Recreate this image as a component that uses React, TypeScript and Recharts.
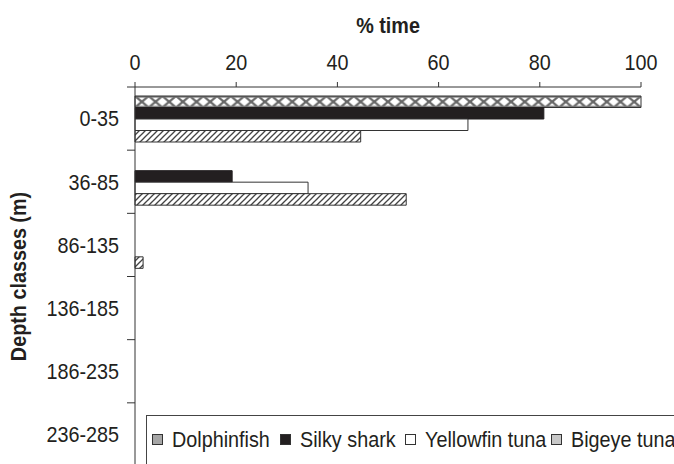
import { Bar, BarChart, Label, XAxis, YAxis } from "recharts";

const depthClasses = ["0-35", "36-85", "86-135", "136-185", "186-235", "236-285"];
const dolphinfish = [100, 0, 0, 0, 0, 0];
const silkyShark = [80.8, 19.2, 0, 0, 0, 0];
const yellowfinTuna = [65.8, 34.2, 0, 0, 0, 0];
const bigeyeTuna = [44.6, 53.6, 1.6, 0, 0, 0];
const timeTicks = [0, 20, 40, 60, 80, 100];

const data = depthClasses.map((depth, i) => ({
  depth,
  dolphinfish: dolphinfish[i],
  silkyShark: silkyShark[i],
  yellowfinTuna: yellowfinTuna[i],
  bigeyeTuna: bigeyeTuna[i],
}));

const W = 674;
const H = 466;
const TOP = 87;
const BAND = (H - TOP) / depthClasses.length;

const font = "'Liberation Sans', Arial, sans-serif";
const ink = "#231f20";
const FS = 22;
const SX = 0.9; // the original type is a bit condensed

const legendItems = [
  { name: "Dolphinfish", swatch: "#a6a6a6", at: 6 },
  { name: "Silky shark", swatch: "#231f20", at: 134 },
  { name: "Yellowfin tuna", swatch: "#ffffff", at: 259 },
  { name: "Bigeye tuna", swatch: "#c8c8c8", at: 405 },
];

function SText({ x, y, anchor = "start", bold = false, rotate = 0, baseline = "auto", children }: any) {
  return (
    <text
      transform={`translate(${x} ${y}) rotate(${rotate}) scale(${SX} 1)`}
      textAnchor={anchor}
      dominantBaseline={baseline}
      fontSize={FS}
      fontWeight={bold ? "bold" : "normal"}
      fill={ink}
      fontFamily={font}
    >
      {children}
    </text>
  );
}

function TimeTick(props: any) {
  const { x, y, payload } = props;
  return <SText x={x} y={y} anchor="middle">{payload.value}</SText>;
}

function DepthTick(props: any) {
  const { x, y, payload } = props;
  const axisX = x + 16;
  return (
    <g>
      <line x1={axisX - 8} x2={axisX} y1={y - BAND / 2} y2={y - BAND / 2} stroke="#333" strokeWidth={1} />
      <SText x={x} y={y} anchor="end" baseline="central">{payload.value}</SText>
    </g>
  );
}

function LegendBox() {
  return (
    <svg width={540} height={60} style={{ position: "absolute", left: 146, top: 415, display: "block" }}>
      <rect x={0.5} y={0.5} width={538} height={70} fill="#fff" stroke="#444" strokeWidth={1} />
      {legendItems.map((it) => (
        <g key={it.name}>
          <rect x={it.at + 0.5} y={19.5} width={10} height={10} fill={it.swatch} stroke="#333" strokeWidth={1} />
          <SText x={it.at + 20} y={24.5} baseline="central">{it.name}</SText>
        </g>
      ))}
    </svg>
  );
}

export default function App() {
  return (
    <div style={{ position: "fixed", left: 0, top: 0, width: W, height: 464, overflow: "hidden", background: "#fff" }}>
      <BarChart
        width={W}
        height={H}
        data={data}
        layout="vertical"
        margin={{ top: 0, right: 33, left: 0, bottom: 0 }}
        barSize={11.5}
        barGap={0}
      >
        <defs>
          <pattern id="crossHatch" patternUnits="objectBoundingBox" width={1 / 37} height={1}>
            <rect x={0} y={0} width={14} height={12} fill="#fff" />
            <line x1={0} y1={0} x2={13.7} y2={11.5} stroke="#666" strokeWidth={2.2} />
            <line x1={0} y1={11.5} x2={13.7} y2={0} stroke="#666" strokeWidth={2.2} />
            <line x1={0} y1={0.8} x2={14} y2={0.8} stroke="#777" strokeWidth={1.6} />
            <line x1={0} y1={10.7} x2={14} y2={10.7} stroke="#777" strokeWidth={1.6} />
          </pattern>
          <pattern id="diagHatch" patternUnits="userSpaceOnUse" width={6} height={6}>
            <rect x={0} y={0} width={6} height={6} fill="#fff" />
            <line x1={0} y1={6} x2={6} y2={0} stroke="#444" strokeWidth={1.3} />
            <line x1={-1} y1={1} x2={1} y2={-1} stroke="#444" strokeWidth={1.3} />
            <line x1={5} y1={7} x2={7} y2={5} stroke="#444" strokeWidth={1.3} />
          </pattern>
        </defs>
        <XAxis
          type="number"
          orientation="top"
          domain={[0, 100]}
          ticks={timeTicks}
          height={TOP}
          tickSize={5}
          tickMargin={12}
          stroke="#333"
          tick={<TimeTick />}
        >
          <Label
            content={(p: any) => {
              const vb = p.viewBox;
              return (
                <SText x={vb.x + vb.width / 2} y={vb.y + 25} anchor="middle" baseline="central" bold>
                  % time
                </SText>
              );
            }}
          />
        </XAxis>
        <YAxis
          type="category"
          dataKey="depth"
          width={135}
          tickLine={false}
          tickSize={0}
          tickMargin={16}
          stroke="#333"
          tick={<DepthTick />}
          interval={0}
        >
          <Label
            content={(p: any) => {
              const vb = p.viewBox;
              return (
                <SText x={vb.x + 18} y={vb.y + vb.height / 2} rotate={-90} anchor="middle" baseline="central" bold>
                  Depth classes (m)
                </SText>
              );
            }}
          />
        </YAxis>
        <Bar dataKey="dolphinfish" name="Dolphinfish" fill="url(#crossHatch)" stroke="#333" strokeWidth={1} isAnimationActive={false} />
        <Bar dataKey="silkyShark" name="Silky shark" fill="#231f20" stroke="#231f20" strokeWidth={1} isAnimationActive={false} />
        <Bar dataKey="yellowfinTuna" name="Yellowfin tuna" fill="#fff" stroke="#333" strokeWidth={1} isAnimationActive={false} />
        <Bar dataKey="bigeyeTuna" name="Bigeye tuna" fill="url(#diagHatch)" stroke="#333" strokeWidth={1} isAnimationActive={false} />
      </BarChart>
      <LegendBox />
    </div>
  );
}
